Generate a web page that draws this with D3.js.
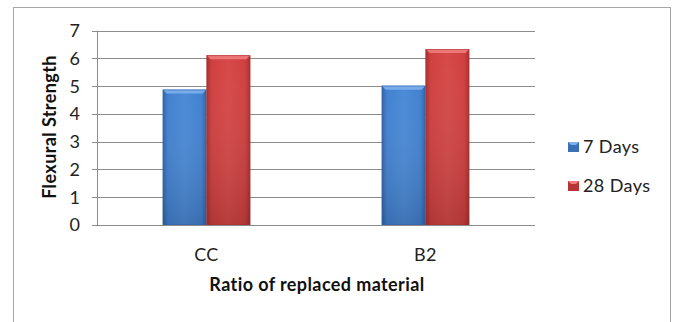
<!DOCTYPE html>
<html>
<head>
<meta charset="utf-8">
<script src="https://cdn.jsdelivr.net/npm/d3@7"></script>
<style>
  html, body { margin: 0; padding: 0; background: #fff; }
  svg { display: block; }
  text { font-family: Lato, "Open Sans", sans-serif; }
</style>
</head>
<body>
<script>
const categories = ["CC", "B2"];
const seriesNames = ["7 Days", "28 Days"];
const values7 = [4.88, 5.02];
const values28 = [6.12, 6.34];
const yTicks = [0, 1, 2, 3, 4, 5, 6, 7];
const xTitle = "Ratio of replaced material";
const yTitle = "Flexural Strength";

const W = 675, H = 322;
const svg = d3.select("body").append("svg").attr("width", W).attr("height", H);

const defs = svg.append("defs");
const cols = [
  {id: "gBlue", dark: "#2f62a6", mid: "#4281d0", light: "#4b8ad6", top: "#7eb0ec", legend: "#3a6fb5"},
  {id: "gRed", dark: "#a82e2e", mid: "#d03f3f", light: "#d64848", top: "#ef7d7d", legend: "#b83434"}
];
cols.forEach(c => {
  const g = defs.append("linearGradient").attr("id", c.id).attr("x1", 0).attr("x2", 1).attr("y1", 0).attr("y2", 0);
  g.append("stop").attr("offset", "0%").attr("stop-color", c.dark);
  g.append("stop").attr("offset", "12%").attr("stop-color", c.mid);
  g.append("stop").attr("offset", "50%").attr("stop-color", c.light);
  g.append("stop").attr("offset", "88%").attr("stop-color", c.mid);
  g.append("stop").attr("offset", "100%").attr("stop-color", c.dark);
  const gv = defs.append("linearGradient").attr("id", c.id + "v").attr("x1", 0).attr("x2", 0).attr("y1", 0).attr("y2", 1);
  gv.append("stop").attr("offset", "0%").attr("stop-color", "#fff").attr("stop-opacity", 0);
  gv.append("stop").attr("offset", "100%").attr("stop-color", "#000").attr("stop-opacity", 0.15);
});

// outer border
svg.append("rect").attr("x", 13.5).attr("y", 7.5).attr("width", 657).attr("height", 330)
  .attr("fill", "none").attr("stroke", "#a6a6a6").attr("stroke-width", 1);

const plot = {left: 97, right: 535, top: 30.7, bottom: 225};

const x0 = d3.scaleBand().domain(categories).range([plot.left, plot.right]).paddingInner(0.6).paddingOuter(0.3);
const x1 = d3.scaleBand().domain(seriesNames).range([0, x0.bandwidth()]);
const y = d3.scaleLinear().domain([0, 7]).range([plot.bottom, plot.top]);

// gridlines
svg.append("g").selectAll("line").data(yTicks).join("line")
  .attr("x1", plot.left - 5).attr("x2", plot.right)
  .attr("y1", d => Math.round(y(d)) + 0.5).attr("y2", d => Math.round(y(d)) + 0.5)
  .attr("stroke", "#8c8c8c").attr("stroke-width", 1);

// y axis line
svg.append("line").attr("x1", plot.left + 0.5).attr("x2", plot.left + 0.5)
  .attr("y1", plot.top).attr("y2", plot.bottom).attr("stroke", "#8c8c8c");

const FS = 18, LS = "0.4px";

// y tick labels
svg.append("g").selectAll("text").data(yTicks).join("text")
  .attr("x", 80).attr("y", d => y(d)).attr("dy", "0.36em")
  .attr("text-anchor", "end").attr("font-size", FS).attr("fill", "#222")
  .text(d => d);

// bars
const data = categories.map((c, i) => ({cat: c, vals: [values7[i], values28[i]]}));
const bev = 4;
data.forEach(d => {
  d.vals.forEach((v, si) => {
    const bx = x0(d.cat) + x1(seriesNames[si]);
    const bw = x1.bandwidth();
    const by = y(v);
    const bh = y(0) - by;
    const c = cols[si];
    const g = svg.append("g");
    g.append("rect").attr("x", bx).attr("y", by).attr("width", bw).attr("height", bh)
      .attr("fill", `url(#${c.id})`);
    g.append("rect").attr("x", bx).attr("y", by).attr("width", bw).attr("height", bh)
      .attr("fill", `url(#${c.id}v)`);
    g.append("polygon")
      .attr("points", [[bx, by], [bx + bw, by], [bx + bw - bev, by + bev], [bx + bev, by + bev]].map(p => p.join(",")).join(" "))
      .attr("fill", c.top).attr("opacity", 0.9);
    g.append("rect").attr("x", bx + 0.5).attr("y", by + 0.5).attr("width", bw - 1).attr("height", bh - 1)
      .attr("fill", "none").attr("stroke", c.dark).attr("stroke-opacity", 0.5);
  });
});

// x category labels
svg.append("g").selectAll("text").data(categories).join("text")
  .attr("x", d => x0(d) + x0.bandwidth() / 2).attr("y", 255).attr("dy", "0.36em")
  .attr("text-anchor", "middle").attr("font-size", FS).attr("letter-spacing", LS).attr("fill", "#222")
  .text(d => d);

// axis titles
svg.append("text").attr("x", 317).attr("y", 285).attr("dy", "0.36em")
  .attr("text-anchor", "middle").attr("font-size", FS).attr("letter-spacing", LS).attr("font-weight", "bold").attr("fill", "#111")
  .text(xTitle);
svg.append("text").attr("transform", "translate(50,127) rotate(-90)").attr("dy", "0.36em")
  .attr("text-anchor", "middle").attr("font-size", FS).attr("letter-spacing", LS).attr("font-weight", "bold").attr("fill", "#111")
  .text(yTitle);

// legend
const leg = svg.append("g").selectAll("g").data(seriesNames).join("g")
  .attr("transform", (d, i) => `translate(568, ${147 + i * 39})`);
leg.append("rect").attr("x", 0).attr("y", -5).attr("width", 11).attr("height", 10)
  .attr("fill", (d, i) => cols[i].legend);
leg.append("polygon").attr("points", "0,-5 11,-5 8,-2 3,-2")
  .attr("fill", (d, i) => cols[i].top);
leg.append("text").attr("x", 15).attr("y", 0).attr("dy", "0.36em")
  .attr("font-size", FS).attr("letter-spacing", LS).attr("fill", "#222").text(d => d);
</script>
</body>
</html>
